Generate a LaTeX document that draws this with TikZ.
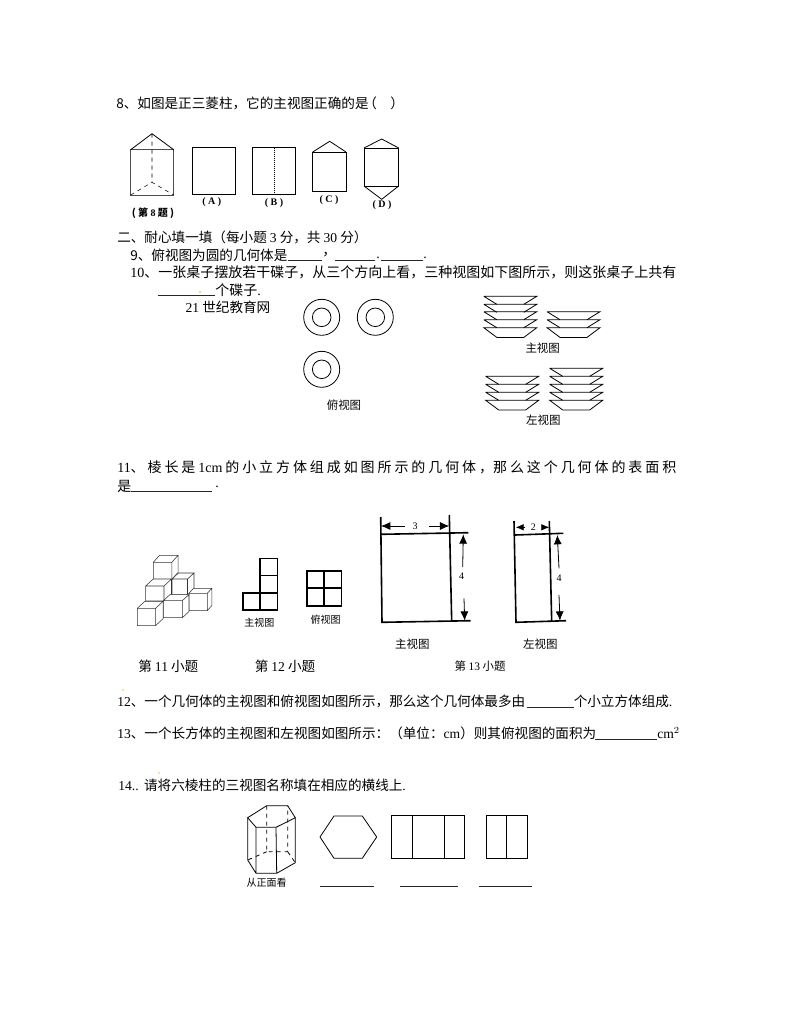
\documentclass[tikz,border=0pt]{standalone}
\usepackage{fontspec}
\setmainfont{Noto Sans CJK SC}
\newfontfamily\lat{Liberation Serif}
\usetikzlibrary{arrows.meta}
\newcommand{\dou}{\symbol{"FF0C}}
\newcommand{\mao}{\symbol{"FF1A}}
\newcommand{\zuo}{\symbol{"FF08}}
\newcommand{\you}{\symbol{"FF09}}
\tikzset{
  txt/.style={anchor=west,inner sep=0pt,font=\fontsize{10.5}{12}\selectfont},
  txtb/.style={anchor=west,inner sep=0pt,font=\fontsize{10.2}{12}\selectfont},
  lbl/.style={inner sep=0pt,font=\fontsize{8.6}{10}\selectfont},
  lblb/.style={inner sep=0pt,font=\fontsize{10.2}{12}\selectfont},
  smalllbl/.style={inner sep=0pt,font=\fontsize{7.5}{9}\selectfont},
  blank/.style={line width=0.7pt,black!85},
  fig/.style={line width=0.6pt},
  heavy/.style={line width=1.2pt}
}
\newcommand{\plate}[2]{\draw[fig] (#1-26.5,#2) -- (#1+26.5,#2) -- (#1+13.5,#2+8) (#1-26.5,#2) -- (#1-13.5,#2+8);}
\newcommand{\dish}[2]{\draw[fig] (#1-26.5,#2) -- (#1+26.5,#2) -- (#1+13.5,#2+9.7) -- (#1-13.5,#2+9.7) -- cycle;}
\newcommand{\cube}[6]{\draw[line width=0.4pt,black!80,fill=white] (#1,#2) rectangle (#1+#3,#2+#4) (#1,#2) -- (#1+#5,#2+#6) -- (#1+#3+#5,#2+#6) -- (#1+#3,#2) (#1+#3+#5,#2+#6) -- (#1+#3+#5,#2+#4+#6) -- (#1+#3,#2+#4);}
\begin{document}
\begin{tikzpicture}[x=0.75pt,y=-0.75pt]
  \useasboundingbox[fill=white] (0,0) rectangle (794,1028);

  \node[txtb] (q8) at (116,103) {8、如图是正三菱柱\dou 它的主视图正确的是\hspace{-4pt}\zuo\quad\you};
  \draw[fig,black!70] (130.7,149.7) rectangle (173.7,195);
  \draw[fig] (130.7,149.7) -- (152,133.7) -- (173.7,149.7);
  \draw[line width=0.4pt,dashed] (152,133.7) -- (152,182.3) (130.7,195) -- (152,182.3) -- (173.7,195);
  \node[smalllbl] (fig8) at (153,213) {\bfseries ( 第 {\lat 8} 题 )};
  \draw[fig] (192.7,147.7) rectangle (235.3,194.3);
  \node[smalllbl] (capA) at (211.7,202) {\lat\bfseries ( A )};
  \draw[fig] (252.7,147.7) rectangle (295.3,194.3);
  \draw[line width=0.5pt,densely dotted] (274.3,147.7) -- (274.3,194.3);
  \node[smalllbl] (capB) at (274,203) {\lat\bfseries ( B )};
  \draw[fig] (312.7,152) rectangle (346,191.3);
  \draw[fig] (312.7,152) -- (329.7,141.3) -- (346,152);
  \node[smalllbl] (capC) at (329,200.3) {\lat\bfseries ( C )};
  \draw[fig] (364,148) rectangle (398.7,186);
  \draw[fig] (364,148) -- (381.7,139) -- (398.7,148) (364,186) -- (381.7,199.3) -- (398.7,186);
  \node[smalllbl] (capD) at (382,205) {\lat\bfseries ( D )};

  \node[txtb] (sec2) at (117,237) {二、耐心填一填\zuo 每小题 {\lat 3} 分\dou 共 {\lat 30} 分\you};
  \node[txtb] (q9) at (130,255) {9、俯视图为圆的几何体是};
  \draw[blank] (287.7,260) -- (321.7,260) (335,260) -- (375,260) (381,260) -- (423,260);
  \node[txt] (q9a) at (322,255) {\dou};
  \node[txt] (q9b) at (376,258) {\lat.};
  \node[txt] (q9c) at (423,258) {\lat.};
  \node[txt] (q10) at (130,272) {{\lat 10}、一张桌子摆放若干碟子\dou 从三个方向上看\dou 三种视图如下图所示\dou 则这张桌子上共有};
  \draw[blank] (158,295.7) -- (215,295.7);
  \node[txt] (q10b) at (215,290) {个碟子{\lat .}};
  \node[lblb] (web) at (228,307) {{\lat 21} 世纪教育网};
  \foreach \cx/\cy in {321.7/317.3,375.3/317.3,321.7/369.3}
    \draw[fig] (\cx,\cy) circle (18) (\cx,\cy) circle (9.3);
  \node[lbl] (topcap) at (344,405) {俯视图};

  \foreach \py in {296.3,304.3,311.7,319.7} {\plate{510.3}{\py}}
  \dish{510.3}{327.7}
  \foreach \py in {311.7,319.7} {\plate{573.5}{\py}}
  \dish{573.5}{327.7}
  \node[lbl] (maincap) at (542.7,348.3) {主视图};
  \foreach \py in {376.3,384.3,392.3} {\plate{512.2}{\py}}
  \dish{512.2}{400.3}
  \foreach \py in {368.3,376.3,384.3,392.3} {\plate{576.2}{\py}}
  \dish{576.2}{400.3}
  \node[lbl] (leftcap) at (543.3,420) {左视图};

  \node[txt] (q11) at (117,467) {\makebox[419.25pt][s]{{\lat 11}、 棱 长 是 {\lat 1cm} 的 小 立 方 体 组 成 如 图 所 示 的 几 何 体 \dou 那 么 这 个 几 何 体 的 表 面 积}};
  \node[txt] (q11b) at (117,486) {是};
  \draw[blank] (131,491) -- (212,491);
  \node[txt] (q11c) at (215,487) {\lat .};

  \cube{172}{579}{15.5}{16}{6.5}{-6}
  \cube{189}{593.3}{18.3}{17.3}{4.5}{-5}
  \cube{153.3}{562.3}{18.5}{17}{6.3}{-7}
  \cube{145.7}{586}{18.3}{15}{7.5}{-7}
  \cube{163.3}{600.7}{19}{17}{6.5}{-6}
  \cube{137.3}{608.3}{18.3}{17.3}{7.5}{-7}

  \draw[heavy] (260,558.3) rectangle (277.3,575.3) (260,575.3) rectangle (277.3,592.7) (260,592.7) rectangle (277.3,610) (242.7,592.7) rectangle (260,610);
  \node[smalllbl] (main12) at (259.3,622.7) {主视图};
  \draw[heavy] (306.7,570.7) rectangle (341.3,605.7) (324,570.7) -- (324,605.7) (306.7,588) -- (341.3,588);
  \node[smalllbl] (top12) at (325.7,620) {俯视图};
  \node[lblb] (cap11) at (168.3,666) {第 {\lat 11} 小题};
  \node[lblb] (cap12) at (285,666) {第 {\lat 12} 小题};

  \draw[heavy] (380.7,517) -- (382,622.3) -- (470.7,620.7) (380.7,534.3) -- (468.3,532.7) (449.3,515) -- (451.7,621.7);
  \node[smalllbl] (dim3) at (415,526) {\lat 3};
  \draw[fig,-{Latex[length=7pt,width=6pt]}] (404.7,526) -- (381,526);
  \draw[fig,-{Latex[length=7pt,width=6pt]}] (429,526) -- (449.3,526);
  \node[smalllbl] (dim4a) at (461.7,576) {\lat 4};
  \draw[fig,-{Latex[length=7pt,width=6pt]}] (462.7,567) -- (463.3,534.3);
  \draw[fig,-{Latex[length=7pt,width=6pt]}] (464,598.3) -- (464.7,620.7);
  \node[lbl] (main13) at (412.3,644.3) {主视图};

  \draw[heavy] (514,521) -- (516,622.3) -- (566,620.7) (515,535) -- (563.3,533.3) (549.3,521) -- (551.7,621.7);
  \node[smalllbl] (dim2) at (533.3,527) {\lat 2};
  \draw[fig,-{Latex[length=6pt,width=5pt]}] (525,527.3) -- (515.7,527.3);
  \draw[fig,-{Latex[length=6pt,width=5pt]}] (541.7,527.3) -- (549.3,527.3);
  \node[smalllbl] (dim4b) at (559,578.3) {\lat 4};
  \draw[fig,-{Latex[length=7pt,width=6pt]}] (559,568.3) -- (557.3,535);
  \draw[fig,-{Latex[length=7pt,width=6pt]}] (559,595) -- (560,620.7);
  \node[lbl] (left13) at (540.3,644.3) {左视图};
  \node[lbl] (cap13) at (480,665.7) {第 {\lat 13} 小题};

  \node[txtb] (q12) at (117,701) {{\lat 12}、一个几何体的主视图和俯视图如图所示\dou 那么这个几何体最多由};
  \draw[blank] (526.5,707) -- (573.5,707);
  \node[txtb] (q12b) at (573.5,701) {个小立方体组成{\lat .}};
  \node[txtb] (q13) at (117,733) {{\lat 13}、一个长方体的主视图和左视图如图所示\mao\zuo 单位\mao{\lat cm}\you 则其俯视图的面积为};
  \draw[blank] (595,739) -- (657,739);
  \node[txtb] (q13b) at (657,733) {\lat cm$^2$};

  \node[txtb] (q14) at (118,785) {{\lat 14..}\hspace{1pt} 请将六棱柱的三视图名称填在相应的横线上{\lat .}};
  \draw[fig] (247.7,817.7) -- (266.7,805.7) -- (287.7,805.7) -- (295.3,817.7) -- (276,827.3) -- (256,827.3) -- cycle;
  \draw[fig] (247.7,817.7) -- (247.7,860) -- (256,873.3) -- (276.7,873.3) -- (295.3,862.7) -- (295.3,817.7) (256,827.3) -- (256,873.3) (276,827.3) -- (276.7,873.3);
  \draw[fig,dashed] (266.7,805.7) -- (266.7,851.7) -- (287.7,851.7) -- (287.7,805.7) (266.7,851.7) -- (247.7,860) (287.7,851.7) -- (295.3,862.7);
  \node[smalllbl] (front14) at (266.7,882.3) {从正面看};
  \draw[fig] (320,837) -- (334,816) -- (362.3,816) -- (376.7,837) -- (362.3,858.3) -- (334,858.3) -- cycle;
  \draw[fig] (391.3,815.3) rectangle (464.7,858.3) (412.7,815.3) -- (412.7,858.3) (444.3,815.3) -- (444.3,858.3);
  \draw[fig] (486.3,815.3) rectangle (527.3,858.3) (506.7,815.3) -- (506.7,858.3);
  \draw[blank] (320,886) -- (374.3,886) (400,886) -- (458,886) (479.3,886) -- (531.7,886);

  \fill[orange!60] (200,292) circle (1) (123,690) circle (0.8) (159,773) circle (0.8);
\end{tikzpicture}
\end{document}
